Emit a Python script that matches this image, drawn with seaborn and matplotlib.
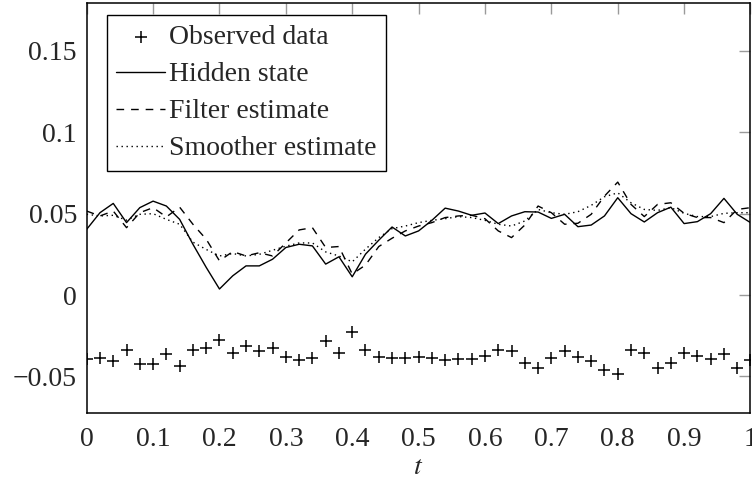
import numpy as np
import pandas as pd
import matplotlib
matplotlib.use('Agg')
import matplotlib.pyplot as plt
import seaborn as sns

# tempo e series
t = np.round(np.arange(0, 51) * 0.02, 2)

observed = [-0.0396, -0.0386, -0.0406, -0.0335, -0.0427, -0.0422, -0.0361, -0.0439, -0.0341, -0.0324,
            -0.0274, -0.0357, -0.0316, -0.0345, -0.0326, -0.0381, -0.0398, -0.0386, -0.0283, -0.0355,
            -0.0228, -0.0341, -0.0381, -0.0387, -0.0387, -0.0382, -0.0387, -0.0402, -0.0396, -0.0396,
            -0.0375, -0.0335, -0.0345, -0.0418, -0.0449, -0.0386, -0.0347, -0.0378, -0.0406, -0.0459,
            -0.0488, -0.0337, -0.0355, -0.0449, -0.0418, -0.0357, -0.0375, -0.0392, -0.0365, -0.0447,
            -0.0402]

hidden = [0.0404, 0.0506, 0.0563, 0.0445, 0.0537, 0.0577, 0.0547, 0.0465, 0.0312, 0.0170,
          0.0037, 0.0118, 0.0179, 0.0179, 0.0220, 0.0292, 0.0312, 0.0302, 0.0190, 0.0235,
          0.0112, 0.0251, 0.0337, 0.0418, 0.0363, 0.0394, 0.0459, 0.0534, 0.0516, 0.0490,
          0.0504, 0.0439, 0.0486, 0.0512, 0.0510, 0.0471, 0.0496, 0.0420, 0.0430, 0.0486,
          0.0598, 0.0500, 0.0449, 0.0506, 0.0540, 0.0439, 0.0451, 0.0500, 0.0594, 0.0496,
          0.0445]

filter_est = [0.0516, 0.0486, 0.0516, 0.0414, 0.0506, 0.0537, 0.0480, 0.0540, 0.0435, 0.0343,
              0.0210, 0.0267, 0.0240, 0.0260, 0.0240, 0.0320, 0.0400, 0.0414, 0.0292, 0.0298,
              0.0129, 0.0184, 0.0298, 0.0349, 0.0394, 0.0424, 0.0445, 0.0476, 0.0486, 0.0490,
              0.0469, 0.0394, 0.0353, 0.0430, 0.0547, 0.0506, 0.0435, 0.0441, 0.0496, 0.0608,
              0.0694, 0.0557, 0.0482, 0.0557, 0.0567, 0.0502, 0.0476, 0.0476, 0.0445, 0.0526,
              0.0537]

smoother_est = [0.0496, 0.0486, 0.0490, 0.0460, 0.0496, 0.0500, 0.0465, 0.0435, 0.0325, 0.0280,
                0.0240, 0.0255, 0.0240, 0.0250, 0.0275, 0.0300, 0.0320, 0.0320, 0.0265, 0.0240,
                0.0204, 0.0282, 0.0353, 0.0408, 0.0424, 0.0445, 0.0459, 0.0469, 0.0482, 0.0476,
                0.0459, 0.0435, 0.0424, 0.0455, 0.0526, 0.0506, 0.0496, 0.0512, 0.0551, 0.0604,
                0.0628, 0.0567, 0.0526, 0.0520, 0.0537, 0.0502, 0.0482, 0.0482, 0.0502, 0.0506,
                0.0506]

xticks = [0, 0.1, 0.2, 0.3, 0.4, 0.5, 0.6, 0.7, 0.8, 0.9, 1]
xtick_labels = ['0', '0.1', '0.2', '0.3', '0.4', '0.5', '0.6', '0.7', '0.8', '0.9', '1']
yticks = [-0.05, 0, 0.05, 0.1, 0.15]
ytick_labels = ['\u22120.05', '0', '0.05', '0.1', '0.15']

df = pd.DataFrame({'t': t, 'observed': observed, 'hidden': hidden,
                   'filter': filter_est, 'smoother': smoother_est})

sns.set_theme(style='white')
plt.rcParams['font.family'] = ['Liberation Serif', 'DejaVu Serif']
plt.rcParams['mathtext.fontset'] = 'stix'

preto = '#000000'
cinza_tick = '#9a9a9a'
tam_fonte = 20

fig = plt.figure(figsize=(7.52, 4.83), dpi=100)
ax = fig.add_axes([0.1153, 0.145, 0.8827, 0.8495])

sns.scatterplot(data=df, x='t', y='observed', marker='+', s=80, color=preto,
                linewidth=1.1, ax=ax, label='Observed data', zorder=3)
sns.lineplot(data=df, x='t', y='hidden', color=preto, linewidth=1.0, ax=ax,
             label='Hidden state')
sns.lineplot(data=df, x='t', y='filter', color=preto, linewidth=1.0, ax=ax,
             label='Filter estimate', linestyle=(0, (5.5, 5)))
sns.lineplot(data=df, x='t', y='smoother', color=preto, linewidth=1.0, ax=ax,
             label='Smoother estimate', linestyle=(0, (1, 2.6)))

ax.set_xlim(0, 1)
ax.set_ylim(-0.0725, 0.1797)
ax.set_xticks(xticks)
ax.set_xticklabels(xtick_labels)
ax.set_yticks(yticks)
ax.set_yticklabels(ytick_labels)
ax.set_xlabel('$t$', fontsize=tam_fonte, labelpad=2)
ax.set_ylabel('')

ax.tick_params(axis='both', direction='in', length=8, width=1, color=cinza_tick,
               top=True, right=True, labelsize=tam_fonte, pad=7)
ax.tick_params(axis='x', pad=10)

for lado in ax.spines.values():
    lado.set_visible(True)
    lado.set_color(preto)
    lado.set_linewidth(1.1)

leg = ax.legend(loc='upper left', bbox_to_anchor=(0.03, 0.97), borderaxespad=0,
                fontsize=tam_fonte, frameon=True, fancybox=False, framealpha=1,
                edgecolor=preto, handlelength=1.75, handletextpad=0.15,
                labelspacing=0.42, borderpad=0.35)
leg.get_frame().set_linewidth(1.0)

fig.savefig('out.png', dpi=100)
